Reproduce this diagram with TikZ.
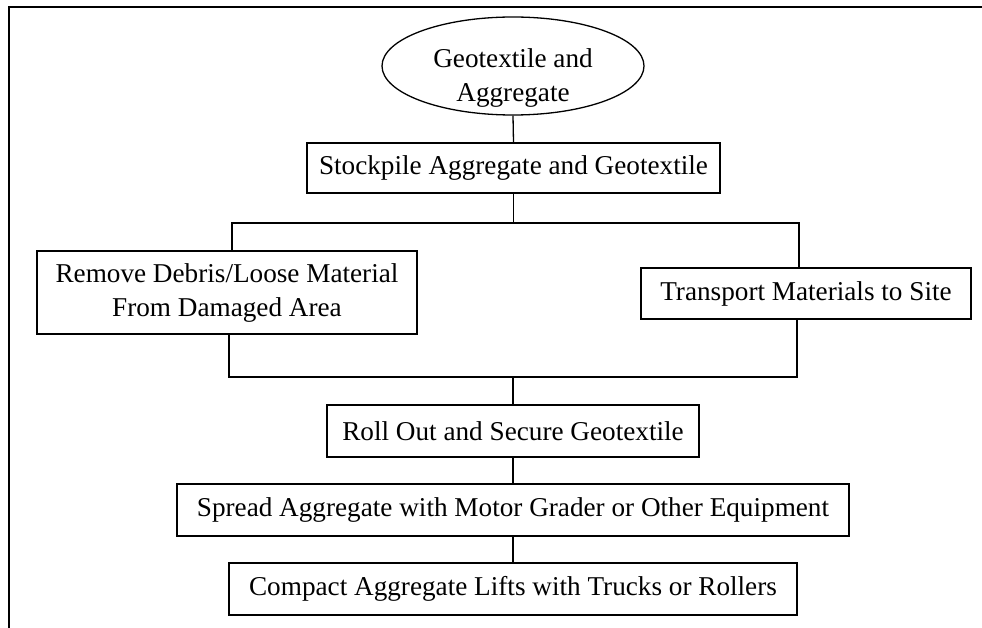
\documentclass[tikz,border=0pt]{standalone}
\usepackage{fontspec}
\setmainfont{Liberation Serif}
\usetikzlibrary{shapes.geometric}
\begin{document}
\begin{tikzpicture}[x=1pt,y=-1pt,
  every node/.style={font=\fontsize{27.2}{34}\selectfont},
  stepbox/.style={draw,line width=1.3pt,rectangle,inner sep=0pt,align=center},
  link/.style={line width=1.3pt},
  frameline/.style={line width=1.6pt}]
  \useasboundingbox (0,0) rectangle (982,628);

  % outer frame (top and left edges only)
  \draw[frameline] (8,7) -- (982,7);
  \draw[frameline] (9,7) -- (9,628);

  % start ellipse and its caption
  \node[draw,line width=1.3pt,ellipse,minimum width=262pt,minimum height=98pt,inner sep=0pt] (start) at (513,66) {};
  \node[align=center,inner sep=0pt] (startlbl) at (513,78) {Geotextile and\\Aggregate};

  % process boxes
  \node[stepbox,minimum width=413pt,minimum height=50pt] (stock) at (513.5,168) {Stockpile Aggregate and Geotextile};
  \node[stepbox,minimum width=380pt,minimum height=83pt] (rem) at (227,292.5) {Remove Debris/Loose Material\\From Damaged Area};
  \node[stepbox,minimum width=330pt,minimum height=51pt] (trans) at (806,293.5) {Transport Materials to Site};
  \node[stepbox,minimum width=372pt,minimum height=52pt] (roll) at (513,431) {Roll Out and Secure Geotextile};
  \node[stepbox,minimum width=672pt,minimum height=52pt] (spread) at (513,510) {Spread Aggregate with Motor Grader or Other Equipment};
  \node[stepbox,minimum width=568pt,minimum height=52pt] (compact) at (513,589) {Compact Aggregate Lifts with Trucks or Rollers};

  % branch and merge lines
  \coordinate (splitL) at (232,223);
  \coordinate (splitR) at (799,223);
  \coordinate (mergeL) at (229,377);
  \coordinate (mergeR) at (797,377);

  \draw[link] (start.south) -- (stock.north);
  \draw[link] (stock.south) -- (stock.south |- splitL);
  \draw[link] (rem.north -| splitL) -- (splitL) -- (splitR) -- (trans.north -| splitR);
  \draw[link] (rem.south -| mergeL) -- (mergeL) -- (mergeR) -- (trans.south -| mergeR);
  \draw[link] (roll.north |- mergeL) -- (roll.north);
  \draw[link] (roll.south) -- (spread.north);
  \draw[link] (spread.south) -- (compact.north);
\end{tikzpicture}
\end{document}
